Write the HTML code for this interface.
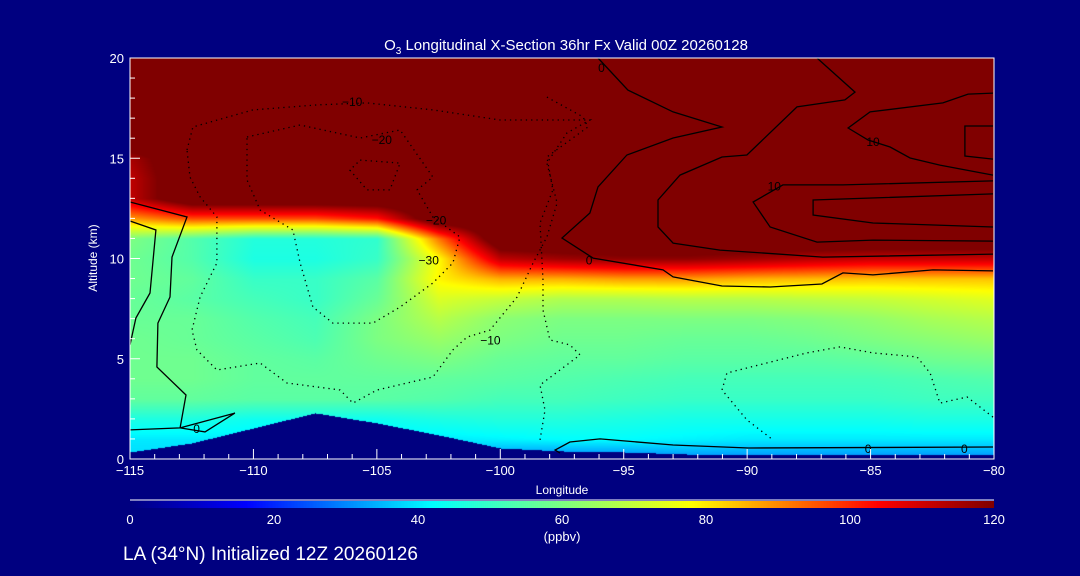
<!DOCTYPE html>
<html><head><meta charset="utf-8"><style>
html,body{margin:0;padding:0;background:#000080;}
#wrap{position:relative;width:1080px;height:576px;background:#000080;overflow:hidden;font-family:"Liberation Sans",sans-serif;color:#fff;}
canvas{position:absolute;left:130px;top:58px;}
svg{position:absolute;left:0;top:0;}
</style></head><body>
<div id="wrap">
<canvas id="field" width="864" height="401"></canvas>
<canvas id="cbar" width="864" height="7" style="left:130px;top:501px"></canvas>
<svg id="svg" width="1080" height="576"></svg>
</div>
<script>
// ---- data ----
const lons = [-115,-112.5,-110,-107.5,-105,-102.5,-100,-97.5,-95,-92.5,-90,-87.5,-85,-82.5,-80];
const alts = [0,1,2,3,4,5,6,7,8,9,10,11,12,13,14,15,16,17,18,19,20];
const ozone = [
 [38,38,38,38,38,34,30,28,28,30,30,30,30,30,30],
 [40,40,40,40,40,40,41,42,42,41,40,40,40,40,40],
 [46,46,44,44,44,46,47,47,46,45,45,45,45,46,46],
 [56,56,55,55,55,54,52,52,51,50,50,50,50,51,51],
 [58,58,56,56,56,56,55,54,53,52,52,52,52,53,54],
 [58,58,56,55,58,60,57,56,56,55,55,55,56,58,59],
 [58,57,55,53,60,64,60,58,58,57,57,58,60,62,64],
 [57,57,54,52,60,68,62,60,60,60,60,61,63,66,68],
 [57,55,52,50,57,73,70,67,67,68,68,69,70,72,74],
 [58,56,50,50,55,79,86,86,88,88,86,85,84,84,84],
 [58,54,46,46,50,78,112,116,118,118,116,113,111,111,111],
 [60,54,47,47,49,92,130,130,130,130,130,130,130,130,130],
 [88,96,96,96,102,130,130,130,130,130,130,130,130,130,130],
 [112,130,130,130,130,130,130,130,130,130,130,130,130,130,130],
 [112,130,130,130,130,130,130,130,130,130,130,130,130,130,130],
 [115,130,130,130,130,130,130,130,130,130,130,130,130,130,130],
 [130,130,130,130,130,130,130,130,130,130,130,130,130,130,130],
 [130,130,130,130,130,130,130,130,130,130,130,130,130,130,130],
 [130,130,130,130,130,130,130,130,130,130,130,130,130,130,130],
 [130,130,130,130,130,130,130,130,130,130,130,130,130,130,130],
 [130,130,130,130,130,130,130,130,130,130,130,130,130,130,130]
];
const terrain = [0.35,0.8,1.55,2.3,1.8,1.2,0.55,0.4,0.35,0.25,0.2,0.2,0.2,0.2,0.2];
const xTicks = [-115,-110,-105,-100,-95,-90,-85,-80];
const yTicks = [0,5,10,15,20];
const cbTicks = [0,20,40,60,80,100,120];
// contours: [lon,alt] pairs
const solidContours = [
 [[-115,12.82],[-112.69,12.07],[-113.3,10.07],[-113.38,8.08],[-113.87,6.78],[-113.91,4.59],[-112.73,3.19],[-112.97,1.55],[-115,1.45]],
 [[-112.97,1.55],[-110.75,2.29],[-111.96,1.35],[-112.97,1.55]],
 [[-115,11.87],[-113.95,11.42],[-114.19,8.28],[-114.76,7.03],[-115,5.69]],
 [[-96.04,20],[-94.83,18.4],[-93,17.31],[-91.02,16.56],[-93,16.01],[-94.87,15.16],[-96.04,13.57],[-96.37,12.27],[-97.5,11.02],[-96.24,10.02],[-93.41,9.43],[-93,9.08],[-91.02,8.63],[-89.07,8.58],[-86.97,8.73],[-86.12,9.28],[-84.9,9.18],[-82.47,9.43],[-80.04,9.38]],
 [[-87.17,20],[-85.63,18.3],[-86.04,17.91],[-87.98,17.56],[-90.01,15.16],[-91.02,15.06],[-92.72,14.16],[-93.61,12.92],[-93.61,11.57],[-93,10.77],[-91.1,10.42],[-86.93,10.07],[-80.04,10.22]],
 [[-80.04,18.25],[-81.05,18.2],[-82.07,17.76],[-85.02,17.31],[-85.91,16.51],[-85.1,15.91],[-84.21,15.56],[-83.4,15.01],[-82.19,14.66],[-80.04,14.16]],
 [[-80.04,13.87],[-86.12,13.67],[-88.55,13.67],[-89.76,12.82],[-89.07,11.57],[-87.17,10.82],[-84.9,10.92],[-80.04,10.87]],
 [[-80.04,13.22],[-87.33,12.92],[-87.33,12.17],[-84.9,11.77],[-80.04,11.57]],
 [[-80.04,16.61],[-81.18,16.61],[-81.18,15.11],[-80.04,14.96]],
 [[-97.58,0.3],[-97.78,0.45],[-97.18,0.85],[-95.96,1.0],[-93,0.7],[-89.95,0.55],[-80.04,0.6]]
];
const dottedContours = [
 [[-112.69,15.41],[-112.45,16.56],[-110.02,17.41],[-107.42,17.66],[-105.4,17.76],[-102.73,17.41],[-100.01,16.91],[-96.37,16.91],[-97.3,16.26],[-98.11,14.76],[-97.7,12.77],[-98.11,11.07],[-98.67,9.78],[-99.32,8.08],[-100.42,6.43],[-101.35,6.08],[-101.92,5.44],[-102.73,4.09],[-104.99,3.44],[-105.97,2.79],[-106.49,3.44],[-108.64,3.79],[-109.73,4.79],[-111.48,4.44],[-112.29,5.44],[-112.49,6.43],[-112.16,8.08],[-111.48,9.78],[-111.48,12.07],[-112.16,13.07],[-112.57,14.06],[-112.69,15.41]],
 [[-110.26,16.06],[-108.11,16.66],[-105.68,16.01],[-104.06,16.41],[-102.73,14.06],[-103.37,13.42],[-102.73,12.07],[-101.63,11.07],[-101.92,9.78],[-102.73,8.78],[-104.06,7.58],[-105.16,6.78],[-106.78,6.78],[-107.59,7.58],[-108.11,9.78],[-108.4,11.42],[-109.73,12.42],[-110.26,13.92],[-110.26,16.06]],
 [[-105.68,14.91],[-104.06,14.76],[-104.47,13.42],[-105.4,13.42],[-106.09,14.41],[-105.68,14.91]],
 [[-80.04,2.09],[-81.09,3.09],[-82.19,2.79],[-82.59,4.29],[-83.12,5.09],[-84.9,5.29],[-86.24,5.59],[-87.58,5.29],[-90.82,4.29],[-91.02,3.44],[-90.01,1.95],[-88.95,0.95]],
 [[-98.11,18.05],[-96.65,17.06],[-96.45,16.56],[-98.11,15.06],[-97.87,13.42],[-98.39,11.77],[-98.27,8.93],[-98.27,7.43],[-97.99,5.94],[-97.18,5.69],[-96.77,5.19],[-97.58,4.44],[-98.39,3.69],[-98.19,2.44],[-98.39,0.95]]
];
const contourLabels = [["0",-112.3,1.5],["\u221210",-106,17.8],["\u221220",-104.8,15.9],["\u221220",-102.6,11.9],["\u221230",-102.9,9.9],["\u221210",-100.4,5.9],["0",-95.9,19.5],["0",-96.4,9.9],["10",-84.9,15.8],["10",-88.9,13.6],["0",-85.1,0.5],["0",-81.2,0.5]];

// ---- axes ----
const PX0=130,PX1=994,PY0=58,PY1=459;
const xS = l => PX0 + (l+115)/35*(PX1-PX0);
const yS = a => PY1 - a/20*(PY1-PY0);
const stops=[[0,0,0,128],[16,0,0,255],[42,0,255,255],[60,125,255,130],[78,255,255,0],[104,255,0,0],[120,128,0,0]];
function cmap(v){ if(v<=0) return stops[0].slice(1); if(v>=120) return stops[6].slice(1);
 for(let i=0;i<stops.length-1;i++){const a=stops[i],b=stops[i+1]; if(v<=b[0]){const t=(v-a[0])/(b[0]-a[0]); return [a[1]+(b[1]-a[1])*t,a[2]+(b[2]-a[2])*t,a[3]+(b[3]-a[3])*t];}} }
function interpLon(arr,l){ let i=Math.min(lons.length-2,Math.max(0,Math.floor((l-lons[0])/2.5))); const t=(l-lons[i])/(lons[i+1]-lons[i]); return arr[i]*(1-t)+arr[i+1]*t; }
// field
const fc=document.getElementById('field'), fx=fc.getContext('2d'), img=fx.createImageData(864,401);
for(let py=0;py<401;py++){ const a=(PY1-(py+PY0))/(PY1-PY0)*20;
 let j=Math.min(alts.length-2,Math.max(0,Math.floor(a))); const ta=Math.max(0,Math.min(1,a-alts[j]));
 for(let px=0;px<864;px++){ const l=-115+px/864*35;
  let i=Math.min(lons.length-2,Math.floor((l+115)/2.5)); const tl=(l-lons[i])/2.5;
  const v=(ozone[j][i]*(1-tl)+ozone[j][i+1]*tl)*(1-ta)+(ozone[j+1][i]*(1-tl)+ozone[j+1][i+1]*tl)*ta;
  let c=cmap(v); if(a<interpLon(terrain,l)) c=[0,0,128];
  const k=(py*864+px)*4; img.data[k]=c[0]; img.data[k+1]=c[1]; img.data[k+2]=c[2]; img.data[k+3]=255; }}
fx.putImageData(img,0,0);
// colorbar
const cc=document.getElementById('cbar').getContext('2d');
for(let px=0;px<864;px++){const c=cmap(px/863*120); cc.fillStyle=`rgb(${c[0]|0},${c[1]|0},${c[2]|0})`; cc.fillRect(px,0,1,7);}
// svg
const NS='http://www.w3.org/2000/svg', svg=document.getElementById('svg');
function mk(tag,attrs,parent){const e=document.createElementNS(NS,tag); for(const k in attrs) e.setAttribute(k,attrs[k]); (parent||svg).appendChild(e); return e;}
const pts = p => p.map(q=>xS(q[0]).toFixed(1)+','+yS(q[1]).toFixed(1)).join(' ');
solidContours.forEach(c=>{const e=mk('polyline',{points:pts(c),fill:'none',stroke:'#000','stroke-width':1.3});
 
 });
dottedContours.forEach(c=>{const e=mk('polyline',{points:pts(c),fill:'none',stroke:'#000','stroke-width':1.3,'stroke-dasharray':'1.3 4'});
 
 });
contourLabels.forEach(c=>{const e=mk('text',{x:xS(c[1]),y:yS(c[2])+4,'font-size':12,fill:'#000','text-anchor':'middle','font-family':'Liberation Sans, sans-serif'}); e.textContent=c[0];
 
 });
// frame
const fr=mk('rect',{x:PX0,y:PY0,width:PX1-PX0,height:PY1-PY0,fill:'none',stroke:'#fff','stroke-width':1});


for(let l=-115;l<=-80;l++){const major=(l%5===0); const t=mk('line',{x1:xS(l),x2:xS(l),y1:PY1,y2:PY1-(major?10:5),stroke:'#fff'});
 
 }
xTicks.forEach(l=>{const t=mk('text',{x:xS(l),y:PY1+16,'font-size':13,fill:'#fff','text-anchor':'middle'}); t.textContent=(l<0?'\u2212':'')+Math.abs(l);
 
 });
for(let a=0;a<=20;a++){const major=(a%5===0); const t=mk('line',{x1:PX0,x2:PX0+(major?10:5),y1:yS(a),y2:yS(a),stroke:'#fff'});
 
 }
yTicks.forEach(a=>{const t=mk('text',{x:PX0-6,y:yS(a)+5,'font-size':13,fill:'#fff','text-anchor':'end'}); t.textContent=a;
 
 });
const yt=mk('text',{x:97,y:258,'font-size':12,fill:'#fff','text-anchor':'middle',transform:'rotate(-90 97 258)'}); yt.textContent='Altitude (km)';


const xt=mk('text',{x:562,y:494,'font-size':12,fill:'#fff','text-anchor':'middle'}); xt.textContent='Longitude';


const ti=mk('text',{x:566,y:50,'font-size':15,fill:'#fff','text-anchor':'middle'});
ti.innerHTML='O<tspan font-size="10" dy="4">3</tspan><tspan dy="-4"> Longitudinal X-Section 36hr  Fx Valid 00Z 20260128</tspan>';


const cl=mk('line',{x1:130,x2:994,y1:500,y2:500,stroke:'#fff'});


cbTicks.forEach(v=>{const t=mk('text',{x:130+v/120*864,y:524,'font-size':13,fill:'#fff','text-anchor':'middle'}); t.textContent=v;
 
 });
const un=mk('text',{x:562,y:541,'font-size':13,fill:'#fff','text-anchor':'middle'}); un.textContent='(ppbv)';


const ft=mk('text',{x:123,y:560,'font-size':19,fill:'#fff'}); ft.textContent='LA (34°N) Initialized 12Z 20260126';


</script>
</body></html>
